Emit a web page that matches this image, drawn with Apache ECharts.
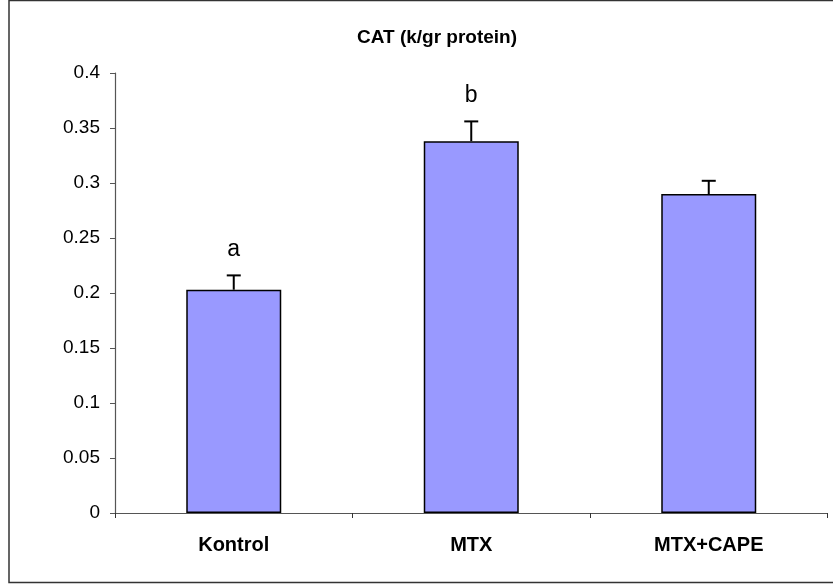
<!DOCTYPE html>
<html>
<head>
<meta charset="utf-8">
<script src="https://cdn.jsdelivr.net/npm/echarts@6/dist/echarts.min.js"></script>
<style>html,body{margin:0;padding:0;background:#fff}#c{width:833px;height:584px}</style>
</head>
<body>
<div id="c"></div>
<script>
const categories = ['Kontrol', 'MTX', 'MTX+CAPE'];
const values = [0.203, 0.338, 0.290];
const errors = [0.013, 0.018, 0.012];
const letters = ['a', 'b', ''];
const yTicks = [0, 0.05, 0.1, 0.15, 0.2, 0.25, 0.3, 0.35, 0.4];

const chart = echarts.init(document.getElementById('c'));
const font = '"Liberation Sans", Arial, sans-serif';

chart.setOption({
  animation: false,
  backgroundColor: '#fff',
  title: {
    text: 'CAT (k/gr protein)',
    left: 432, top: 23, textAlign: 'center',
    textStyle: { fontFamily: font, fontSize: 19, fontWeight: 'bold', color: '#000' }
  },
  graphic: [{
    type: 'rect', shape: { x: 9, y: 0.5, width: 840, height: 582 },
    style: { fill: 'none', stroke: '#333', lineWidth: 1.5 }, silent: true, z: -1
  }],
  grid: { left: 115, right: 5.5, top: 73, bottom: 71, containLabel: false },
  xAxis: {
    type: 'category', data: categories,
    axisLine: { lineStyle: { color: '#555', width: 1.2 } },
    axisTick: { show: true, length: 5, lineStyle: { color: '#333' } },
    axisLabel: { fontFamily: font, fontSize: 20, fontWeight: 'bold', color: '#000', margin: 22 }
  },
  yAxis: {
    type: 'value', min: 0, max: 0.4, interval: 0.05,
    axisLine: { show: true, lineStyle: { color: '#555', width: 1.2 } },
    axisTick: { show: true, length: 5, lineStyle: { color: '#555' } },
    splitLine: { show: false },
    axisLabel: {
      fontFamily: font, fontSize: 19, color: '#000', margin: 15,
      formatter: v => { const t = yTicks.find(x => Math.abs(x - v) < 1e-9); return t === undefined ? '' : String(t); }
    }
  },
  series: [{
    type: 'bar', data: values, barWidth: '40%',
    itemStyle: { color: '#9999ff', borderColor: '#000', borderWidth: 1.5 },
    z: 2
  }, {
    type: 'custom',
    data: values.map((v, i) => [i, v, errors[i]]),
    renderItem: function (params, api) {
      const i = api.value(0), v = api.value(1), e = api.value(2);
      const base = api.coord([i, v]);
      const top = api.coord([i, v + e]);
      const half = 7;
      const children = [
        { type: 'line', shape: { x1: base[0], y1: base[1], x2: top[0], y2: top[1] }, style: { stroke: '#000', lineWidth: 2 } },
        { type: 'line', shape: { x1: top[0] - half, y1: top[1], x2: top[0] + half, y2: top[1] }, style: { stroke: '#000', lineWidth: 2 } }
      ];
      const letter = letters[params.dataIndex];
      if (letter) {
        children.push({ type: 'text', x: top[0], y: top[1] - 14,
          style: { text: letter, fontFamily: font, fontSize: 23, fill: '#000', align: 'center', verticalAlign: 'bottom' } });
      }
      return { type: 'group', children: children };
    },
    z: 3
  }]
});
</script>
</body>
</html>
